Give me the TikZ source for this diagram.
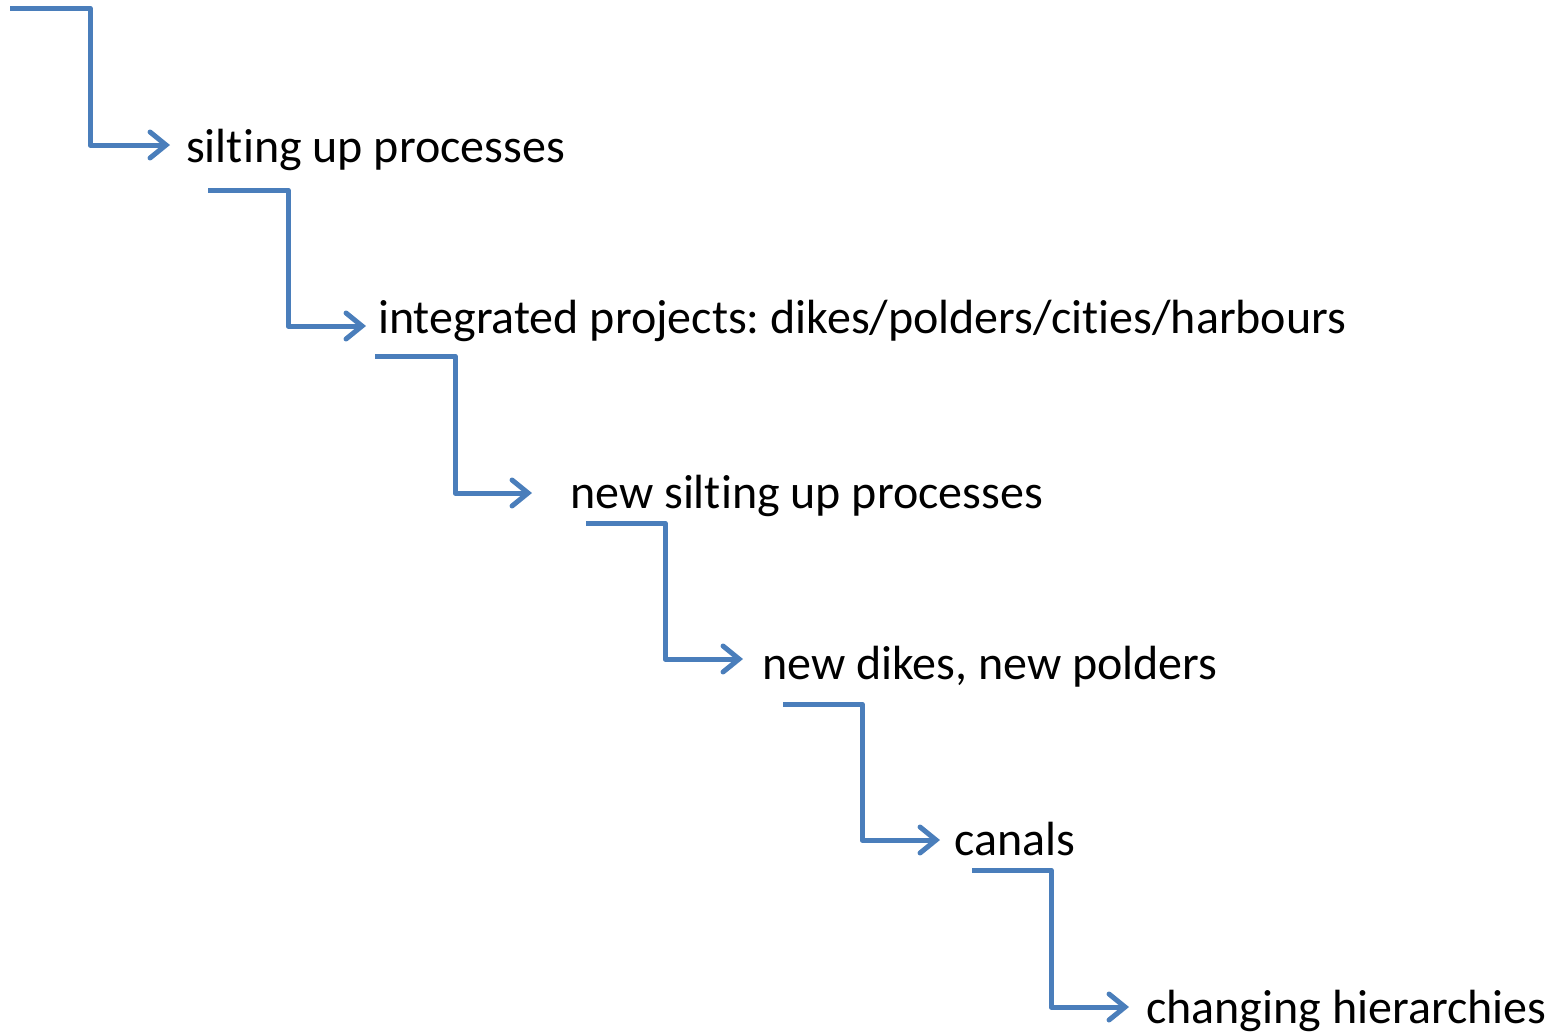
\documentclass[tikz,border=0pt]{standalone}
\usepackage{fontspec}
\setmainfont{Carlito}[Ligatures=NoCommon]
\usetikzlibrary{arrows.meta}
\definecolor{stepblue}{HTML}{4A7EBB}
\frenchspacing
\begin{document}
\begin{tikzpicture}[x=1pt,y=-1pt,
  conn/.style={draw=stepblue,line width=5pt,line join=round,
    -{Straight Barb[length=16pt,width=26pt,line width=5pt,line cap=round]}},
  lbl/.style={anchor=base west,inner sep=0pt,font=\fontsize{48}{58}\selectfont}]
\useasboundingbox (0,0) rectangle (1556,1034);
\coordinate (s0) at (10,8);
\node[lbl] (t1) at (186,162) {silting up processes};
\coordinate (s1) at (208,190);
\node[lbl] (t2) at (378,333) {integrated projects: dikes/polders/cities/harbours};
\coordinate (s2) at (375,356);
\node[lbl] (t3) at (570,508) {new silting up processes};
\coordinate (s3) at (586,523);
\node[lbl] (t4) at (762,679) {new dikes, new polders};
\coordinate (s4) at (783,704);
\node[lbl] (t5) at (954,855) {canals};
\coordinate (s5) at (972,870);
\node[lbl] (t6) at (1146,1023) {changing hierarchies};
\coordinate (e1) at (170,145);
\coordinate (e2) at (366,326);
\coordinate (e3) at (532,493);
\coordinate (e4) at (743,659);
\coordinate (e5) at (940,840);
\coordinate (e6) at (1129,1007);
\draw[conn] (s0) -- (90,8) |- (e1);
\draw[conn] (s1) -- (288,190) |- (e2);
\draw[conn] (s2) -- (455,356) |- (e3);
\draw[conn] (s3) -- (665,523) |- (e4);
\draw[conn] (s4) -- (862,704) |- (e5);
\draw[conn] (s5) -- (1051,870) |- (e6);
\end{tikzpicture}
\end{document}
